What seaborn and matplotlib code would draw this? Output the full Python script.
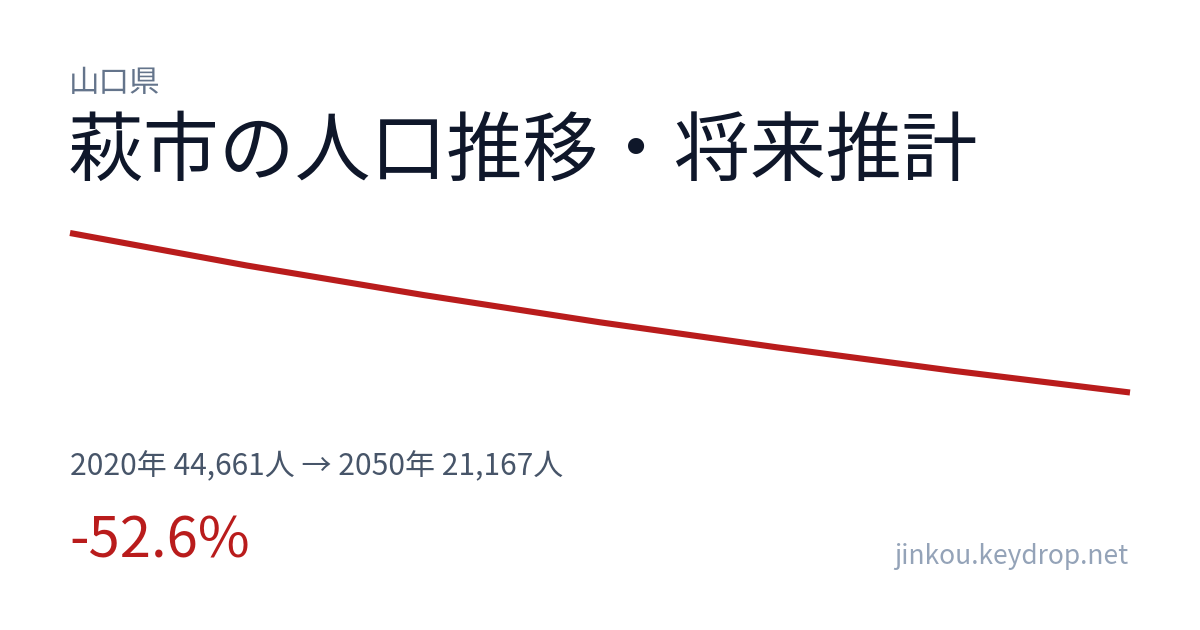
import matplotlib
matplotlib.use("Agg")
import matplotlib.pyplot as plt
import seaborn as sns
import pandas as pd

years = [2020, 2025, 2030, 2035, 2040, 2045, 2050]
population = [44661, 39874, 35528, 31507, 27825, 24363, 21167]

prefecture = "山口県"
title = "萩市の人口推移・将来推計"
summary = "2020年 44,661人 → 2050年 21,167人"
change = "-52.6%"
site = "jinkou.keydrop.net"

sns.set_theme(style="white")
plt.rcParams['font.family'] = ['Noto Sans CJK JP', 'DejaVu Sans']

W, H = 1200, 630
fig = plt.figure(figsize=(W / 100, H / 100), dpi=100)
fig.patch.set_facecolor("white")

x0, x1, ytop, ybot = 70, 1130, 233, 392.5
ax = fig.add_axes([x0 / W, 1 - ybot / H, (x1 - x0) / W, (ybot - ytop) / H])
df = pd.DataFrame({"year": years, "pop": population})
sns.lineplot(data=df, x="year", y="pop", ax=ax, color="#b91c1c", linewidth=4.4,
             clip_on=False, solid_capstyle="butt", solid_joinstyle="round")
ax.set_xlim(min(years), max(years))
ax.set_ylim(min(population), max(population))
ax.axis("off")

def fy(y):
    return 1 - y / H

fig.text(69 / W, fy(83), prefecture, fontsize=22, color="#64748b", va="center", ha="left")
fig.text(68 / W, fy(153), title, fontsize=54.6, color="#0f172a", va="center", ha="left")
fig.text(70 / W, fy(467), summary, fontsize=21.6, color="#475569", va="center", ha="left")
fig.text(69 / W, fy(542), change, fontsize=40.5, color="#b91c1c", va="center", ha="left")
fig.text(1128 / W, fy(557), site, fontsize=19, color="#94a3b8", va="center", ha="right")

fig.savefig("out.png", dpi=100, facecolor="white")
